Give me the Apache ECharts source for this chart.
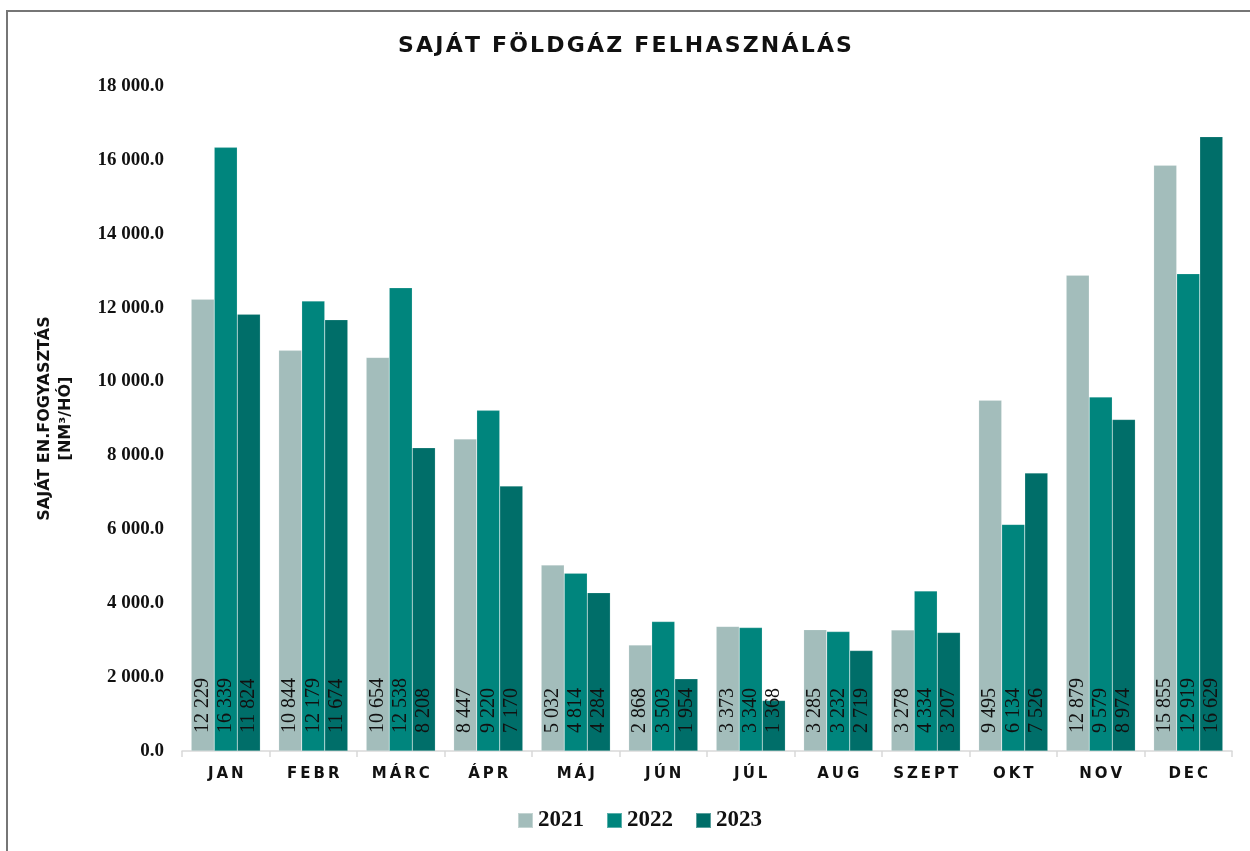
<!DOCTYPE html>
<html>
<head>
<meta charset="utf-8">
<script src="https://cdn.jsdelivr.net/npm/echarts@6/dist/echarts.min.js"></script>
<style>
  html, body { margin: 0; padding: 0; background: #fff; }
  #frame { position: absolute; left: 6px; top: 10px; width: 1250px; height: 851px; border: 2px solid #767676; box-sizing: border-box; }
  #chart { position: absolute; left: 0; top: 0; width: 1250px; height: 851px; }
</style>
</head>
<body>
<div id="frame"></div>
<div id="chart"></div>
<script>
var months = ['JAN', 'FEBR', 'MÁRC', 'ÁPR', 'MÁJ', 'JÚN', 'JÚL', 'AUG', 'SZEPT', 'OKT', 'NOV', 'DEC'];
var years = ['2021', '2022', '2023'];
var v2021 = [12229, 10844, 10654, 8447, 5032, 2868, 3373, 3285, 3278, 9495, 12879, 15855];
var v2022 = [16339, 12179, 12538, 9220, 4814, 3503, 3340, 3232, 4334, 6134, 9579, 12919];
var v2023 = [11824, 11674, 8208, 7170, 4284, 1954, 1368, 2719, 3207, 7526, 8974, 16629];
var colors = ['#a3bdbb', '#00857d', '#006e69'];

// spread letters like the original title / axis labels
function spaced(s, sp) {
  return s.split('').join(sp);
}
function thousands(n, dec) {
  var s = n.toFixed(dec);
  var parts = s.split('.');
  parts[0] = parts[0].replace(/\B(?=(\d{3})+(?!\d))/g, ' ');
  return parts.join('.');
}

var chart = echarts.init(document.getElementById('chart'));

function barSeries(name, data) {
  return {
    name: name,
    type: 'bar',
    data: data,
    barGap: '0%',
    barCategoryGap: '21%',
    itemStyle: { borderColor: 'rgba(255,255,255,0.35)', borderWidth: 0.5 },
    label: {
      show: true,
      position: 'insideBottom',
      rotate: 90,
      align: 'left',
      verticalAlign: 'middle',
      distance: 18,
      fontFamily: 'Liberation Serif',
      fontSize: 20,
      color: '#111',
      formatter: function (p) { return thousands(p.value, 0); }
    }
  };
}

chart.setOption({
  color: colors,
  animation: false,
  title: {
    text: spaced('SAJÁT FÖLDGÁZ FELHASZNÁLÁS', '\u200a'),
    left: 'center',
    top: 30,
    textStyle: { fontFamily: 'DejaVu Sans', fontWeight: 'bold', fontSize: 22, color: '#111' }
  },
  legend: {
    bottom: 14,
    left: 512,
    itemWidth: 15,
    itemHeight: 15,
    itemGap: 22,
    icon: 'rect',
    textStyle: { fontFamily: 'Liberation Serif', fontWeight: 'bold', fontSize: 23, color: '#111' },
    data: years
  },
  grid: { left: 182, right: 18, top: 86, bottom: 100 },
  xAxis: {
    type: 'category',
    data: months,
    axisLine: { lineStyle: { color: '#d9d9d9', width: 1.5 } },
    axisTick: { show: true, length: 6, lineStyle: { color: '#d9d9d9', width: 1.5 } },
    axisLabel: {
      margin: 16,
      fontFamily: 'DejaVu Sans',
      fontWeight: 'bold',
      fontSize: 15,
      color: '#111',
      formatter: function (v) { return spaced(v, '\u2009'); }
    }
  },
  yAxis: {
    type: 'value',
    min: 0,
    max: 18000,
    interval: 2000,
    splitLine: { show: false },
    axisLine: { show: false },
    axisTick: { show: false },
    name: 'SAJÁT EN.FOGYASZTÁS\n[NM³/HÓ]',
    nameLocation: 'middle',
    nameGap: 106,
    nameTextStyle: { fontFamily: 'DejaVu Sans', fontWeight: 'bold', fontSize: 16, color: '#111', lineHeight: 21 },
    axisLabel: {
      margin: 18,
      fontFamily: 'Liberation Serif',
      fontWeight: 'bold',
      fontSize: 19,
      color: '#111',
      formatter: function (v) { return thousands(v, 1); }
    }
  },
  series: [
    barSeries(years[0], v2021),
    barSeries(years[1], v2022),
    barSeries(years[2], v2023)
  ]
});
</script>
</body>
</html>
